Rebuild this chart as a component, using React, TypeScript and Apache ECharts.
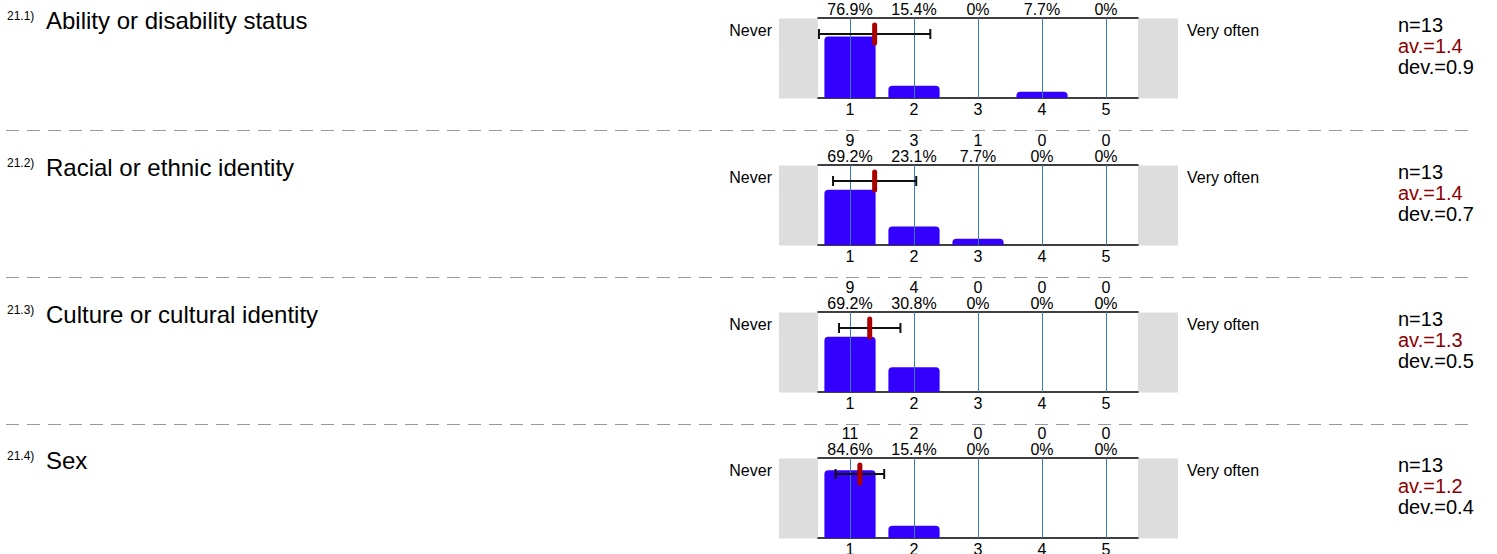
import React, { useEffect, useRef } from 'react';
import * as echarts from 'echarts';

const categories = ['1', '2', '3', '4', '5'];
const questionNumbers = ['21.1)', '21.2)', '21.3)', '21.4)'];
const questionLabels = [
  'Ability or disability status',
  'Racial or ethnic identity',
  'Culture or cultural identity',
  'Sex',
];
// counts of the first item sit above the visible page in the reference, so they are not drawn
const countsQ1 = [10, 2, 0, 1, 0];
const countsQ2 = [9, 3, 1, 0, 0];
const countsQ3 = [9, 4, 0, 0, 0];
const countsQ4 = [11, 2, 0, 0, 0];
const percentQ1 = [76.9, 15.4, 0, 7.7, 0];
const percentQ2 = [69.2, 23.1, 7.7, 0, 0];
const percentQ3 = [69.2, 30.8, 0, 0, 0];
const percentQ4 = [84.6, 15.4, 0, 0, 0];
const meanValues = [1.385, 1.385, 1.308, 1.154];
const devValues = [0.87, 0.65, 0.48, 0.38];
const nValues = [13, 13, 13, 13];
const avLabels = ['1.4', '1.4', '1.3', '1.2'];
const devLabels = ['0.9', '0.7', '0.5', '0.4'];
const leftAnchor = 'Never';
const rightAnchor = 'Very often';

const counts = [countsQ1, countsQ2, countsQ3, countsQ4];
const percents = [percentQ1, percentQ2, percentQ3, percentQ4];
const showCounts = [false, true, true, true];

const FONT = "'Liberation Sans', Arial, Helvetica, sans-serif";
const PANEL_TOPS = [18, 165, 312, 458];
const PLOT_LEFT = 818;
const PLOT_WIDTH = 320;
const PLOT_HEIGHT = 80;

function pctText(p: number) {
  return p === 0 ? '0%' : p.toFixed(1) + '%';
}

function textEl(text: string, x: number, y: number, size: number, fill: string, align: string) {
  return {
    type: 'text',
    x,
    y,
    silent: true,
    style: {
      text,
      fontSize: size,
      fontFamily: FONT,
      fill,
      align,
      verticalAlign: 'middle',
      textAlign: align,
      textVerticalAlign: 'middle',
    },
  };
}

export default function App() {
  const ref = useRef<HTMLDivElement>(null);

  useEffect(() => {
    if (!ref.current) return;
    const chart = echarts.init(ref.current, null, { renderer: 'svg' });

    const grid: any[] = [];
    const xAxis: any[] = [];
    const yAxis: any[] = [];
    const series: any[] = [];
    const graphic: any[] = [];

    PANEL_TOPS.forEach((T, i) => {
      grid.push({
        left: PLOT_LEFT,
        top: T,
        width: PLOT_WIDTH,
        height: PLOT_HEIGHT,
        containLabel: false,
        outerBoundsMode: 'none',
      });
      const topLabels = categories.map((_, k) =>
        showCounts[i]
          ? `${counts[i][k]}\n${pctText(percents[i][k])}`
          : pctText(percents[i][k])
      );
      xAxis.push({
        type: 'category',
        gridIndex: i,
        position: 'bottom',
        data: categories,
        boundaryGap: true,
        axisLine: { lineStyle: { color: '#000', width: 1.5 } },
        axisTick: { show: false },
        axisLabel: { interval: 0, fontSize: 16, color: '#000', fontFamily: FONT, margin: 3 },
        splitLine: { show: false },
      });
      xAxis.push({
        type: 'category',
        gridIndex: i,
        position: 'top',
        data: topLabels,
        boundaryGap: true,
        axisLine: { lineStyle: { color: '#000', width: 1.5 } },
        axisTick: { show: false },
        axisLabel: { interval: 0, fontSize: 16, lineHeight: 16.5, color: '#000', fontFamily: FONT, margin: 0 },
        splitLine: { show: false },
      });
      xAxis.push({ type: 'value', gridIndex: i, min: 0.5, max: 5.5, show: false });
      yAxis.push({ type: 'value', gridIndex: i, min: 0, max: 100, show: false });

      series.push({
        type: 'bar',
        xAxisIndex: 3 * i,
        yAxisIndex: i,
        data: percents[i],
        barCategoryGap: '20%',
        itemStyle: { color: '#3300ff', borderRadius: [4, 4, 0, 0] },
        silent: true,
        markLine: {
          silent: true,
          symbol: ['none', 'none'],
          label: { show: false },
          lineStyle: { color: '#3d7ab5', width: 1, type: 'solid' },
          data: categories.map((c) => ({ xAxis: c })),
        },
      });

      series.push({
        type: 'custom',
        xAxisIndex: 3 * i + 2,
        yAxisIndex: i,
        z: 10,
        clip: false,
        silent: true,
        data: [[meanValues[i], devValues[i]]],
        renderItem: (_params: any, api: any) => {
          const m = api.value(0);
          const d = api.value(1);
          const c = api.coord([m, 100]);
          const y = c[1] + 16;
          const cx = c[0];
          const x0 = api.coord([m - d, 100])[0];
          const x1 = api.coord([m + d, 100])[0];
          const st = { stroke: '#111', lineWidth: 2 };
          return {
            type: 'group',
            children: [
              { type: 'line', shape: { x1: x0, y1: y, x2: x1, y2: y }, style: st },
              { type: 'line', shape: { x1: x0, y1: y - 5, x2: x0, y2: y + 5 }, style: st },
              { type: 'line', shape: { x1: x1, y1: y - 5, x2: x1, y2: y + 5 }, style: st },
              {
                type: 'rect',
                shape: { x: cx - 2.5, y: y - 11.5, width: 5, height: 23, r: 2.5 },
                style: { fill: '#aa0000' },
              },
            ],
          };
        },
      });

      // side gray boxes
      graphic.push({
        type: 'rect',
        silent: true,
        shape: { x: 779, y: T + 0.5, width: PLOT_LEFT - 779, height: PLOT_HEIGHT },
        style: { fill: '#dddddd' },
      });
      graphic.push({
        type: 'rect',
        silent: true,
        shape: { x: PLOT_LEFT + PLOT_WIDTH, y: T + 0.5, width: 40, height: PLOT_HEIGHT },
        style: { fill: '#dddddd' },
      });

      graphic.push(textEl(leftAnchor, 772, T + 12, 16, '#000', 'right'));
      graphic.push(textEl(rightAnchor, 1187, T + 12, 16, '#000', 'left'));
      graphic.push(textEl(questionNumbers[i], 7, T - 2, 12, '#000', 'left'));
      graphic.push(textEl(questionLabels[i], 46, T + 2, 24, '#000', 'left'));
      graphic.push(textEl('n=' + nValues[i], 1398, T + 7, 20, '#000', 'left'));
      graphic.push(textEl('av.=' + avLabels[i], 1398, T + 28, 20, '#8b0000', 'left'));
      graphic.push(textEl('dev.=' + devLabels[i], 1398, T + 48.5, 20, '#000', 'left'));

      if (i < PANEL_TOPS.length - 1) {
        const Y = Math.round(T + 112) + 0.5;
        graphic.push({
          type: 'line',
          silent: true,
          shape: { x1: 6, y1: Y, x2: 1470, y2: Y },
          style: { stroke: '#999999', lineWidth: 1, lineDash: [13, 8] },
        });
      }
    });

    chart.setOption({
      animation: false,
      backgroundColor: '#ffffff',
      textStyle: { fontFamily: FONT },
      grid,
      xAxis,
      yAxis,
      series,
      graphic: { elements: graphic },
    });

    return () => {
      chart.dispose();
    };
  }, []);

  return (
    <div
      ref={ref}
      style={{ position: 'fixed', left: 0, top: 0, width: 1497, height: 554 }}
    />
  );
}
